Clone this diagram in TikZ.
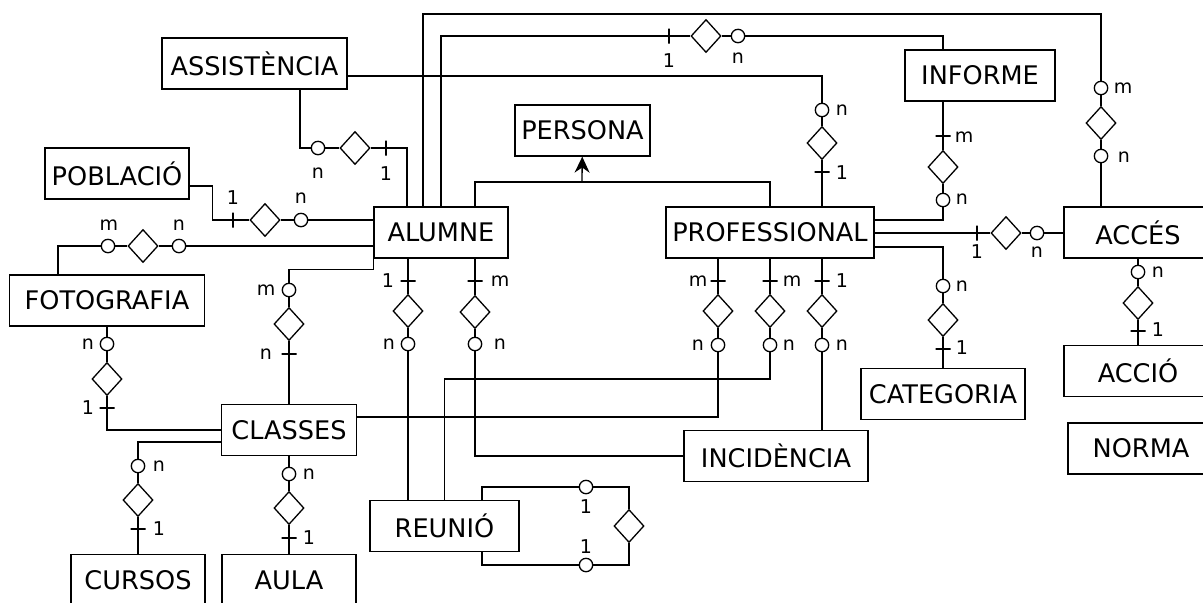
\documentclass[tikz,border=0pt]{standalone}
\usepackage{fontspec}
\setmainfont{DejaVu Sans}
\usetikzlibrary{shapes.geometric,arrows.meta}

\begin{document}
\begin{tikzpicture}[
  x=0.5pt,y=-0.5pt,line width=.65pt,
  ent/.style={draw,fill=white,inner sep=0pt,minimum height=25.5pt,
    minimum width=#1*0.5pt,font=\fontsize{12.8}{15}\selectfont},
  rel/.style={diamond,draw,fill=white,inner sep=0pt,
    minimum width=15pt,minimum height=16.5pt},
  opt/.style={circle,draw,fill=white,inner sep=0pt,minimum size=6.7pt},
  barh/.style={draw,inner sep=0pt,minimum width=7.5pt,minimum height=0pt},
  barv/.style={draw,inner sep=0pt,minimum width=0pt,minimum height=7.5pt},
  card/.style={inner sep=0pt,font=\fontsize{9.5}{11}\selectfont}]
  \useasboundingbox (0,0) rectangle (1203,602);
  \clip (0,0) rectangle (1203,602);

  % entities
  \node[ent=185] (assist) at (254.5,63.5) {ASSISTÈNCIA};
  \node[ent=144] (pobla) at (117,173.5) {POBLACIÓ};
  \node[ent=195] (foto) at (107,300.5) {FOTOGRAFIA};
  \node[ent=134] (alumne) at (441,232.5) {ALUMNE};
  \node[ent=135] (persona) at (582.5,130.5) {PERSONA};
  \node[ent=208] (prof) at (770,232.5) {PROFESSIONAL};
  \node[ent=150] (informe) at (980,75.5) {INFORME};
  \node[ent=148] (acces) at (1138,232.5) {ACCÉS};
  \node[ent=148] (accio) at (1138,371) {ACCIÓ};
  \node[ent=146] (norma) at (1141,448.5) {NORMA};
  \node[ent=164] (categ) at (943,394) {CATEGORIA};
  \node[ent=184] (incid) at (776,456) {INCIDÈNCIA};
  \node[ent=149] (reunio) at (444.5,526) {REUNIÓ};
  \node[ent=135] (classes) at (289,430) {CLASSES};
  \node[ent=134] (cursos) at (138,580) {CURSOS};
  \node[ent=134] (aula) at (289,580) {AULA};

  % relationship diamonds, optional circles and single bars
  \foreach \nm/\x/\y in {d1/355/148,d2/265/220,d3/143/246,d4/289/324,
    d5/408/311,d6/475/312,d7/718/311,d8/770/311,d9/822/311,d10/943/320,
    d11/1006/233,d12/943/167,d14/822/143,d15/706/36,d16/1101/123,
    d17/1138/303,d18/107/379,d19/138/500,d20/289/508,d21/629/526}
    \node[rel] (\nm) at (\x,\y) {};
  \foreach \nm/\x/\y in {o1/318/148,o2/301/220,o3a/108/246,o3b/179/246,
    o4/289/290,o5/408/344,o6/475/344,o7/718/345,o8/770/345,o9/822/345,
    o10/943/286,o11/1037/233,o12/943/200,o14/822/110,o15/738/36,
    o16a/1101/88,o16b/1101/156,o17/1138/272,o18/107/344,o19/138/466,
    o20/289/474,o21a/586/487,o21b/586/565}
    \node[opt] (\nm) at (\x,\y) {};
  \foreach \nm/\x/\y in {t1/386/148,t2/233/220,t11/977/233,t15/669/36}
    \node[barv] (\nm) at (\x,\y) {};
  \foreach \nm/\x/\y in {t4/289/354,t5/408/281,t6/475/281,t7/718/281,
    t8/770/281,t9/822/281,t10/943/349,t12/943/136,t14/822/172,
    t17/1138/331,t18/107/408,t19/138/529,t20/289/538}
    \node[barh] (\nm) at (\x,\y) {};

  % cardinalities
  \foreach \x/\y/\t [count=\i] in {318/173/n,386/174/1,233/198/1,301/198/n,
    109/225/m,179/225/n,266/290/m,266/354/n,388/281/1,389/344/n,
    500/281/m,500/344/n,698/281/m,698/345/n,792/281/m,789/345/n,
    842/281/1,842/345/n,962/286/n,962/348/1,977/252/1,1037/252/n,
    962/199/n,964/137/m,842/110/n,842/173/1,669/61/1,738/58/n,
    1123/88/m,1124/157/n,1158/272/n,1158/330/1,88/344/n,88/408/1,
    159/466/n,159/529/1,309/474/n,309/538/1,586/507/1,586/547/1}
    \node[card] (lab\i) at (\x,\y) {\t};

  % connectors of ALUMNE
  \draw (assist.south -| 300,0) |- (o1) -- (d1) -- (t1.center)
    -| (alumne.north -| 407,0);
  \draw (pobla.east |- 0,186) -- ++(23,0) |- (t2.center) -- (d2) -- (o2)
    -- (o2 -| alumne.west);
  \draw (foto.north -| 58,0) |- (o3a) -- (d3) -- (o3b) -- (o3b -| alumne.west);
  \draw (alumne.south west) -- ++(0,11) -| (o4) -- (d4) -- (t4.center)
    -- (t4 |- classes.north);
  \draw (alumne.south -| 408,0) -- (t5.center) -- (d5) -- (o5)
    -- (o5 |- reunio.north);
  \draw (alumne.south -| 475,0) -- (t6.center) -- (d6) -- (o6) |- (incid);
  \draw (alumne.north) |- (t15.center) -- (d15) -- (o15)
    -| (informe.north -| 943,0);
  \draw (alumne.north -| 423,0) |- (o16a |- 0,14) -- (o16a) -- (d16)
    -- (o16b) -- (o16b |- acces.north);

  % connectors of PROFESSIONAL
  \draw (prof.south -| 718,0) -- (t7.center) -- (d7) -- (o7)
    |- (classes.east |- 0,417);
  \draw (prof.south) -- (t8.center) -- (d8) -- (o8) -- (o8 |- 0,379)
    -| (reunio.north);
  \draw (prof.south -| 822,0) -- (t9.center) -- (d9) -- (o9)
    -- (o9 |- incid.north);
  \draw (prof.east |- 0,247) -| (o10) -- (d10) -- (t10.center) -- (categ.north);
  \draw (prof.east |- 0,233) -- (t11.center) -- (d11) -- (o11)
    -- (o11 -| acces.west);
  \draw (prof.east |- 0,220) -| (o12) -- (d12) -- (t12.center)
    -- (t12 |- informe.south);
  \draw (assist.east |- 0,76) -| (o14) -- (d14) -- (t14.center)
    -- (t14 |- prof.north);

  % generalisation into PERSONA
  \draw (prof.north) -- (prof.north |- 0,182) -| (alumne.north -| 475,0);
  \coordinate (gen) at (582,182);
  \draw[-{Stealth[length=8pt,width=7.5pt]}] (gen) -- (persona);

  % the rest
  \draw (acces.south) -- (o17) -- (d17) -- (t17.center) -- (accio.north);
  \draw (foto.south) -- (o18) -- (d18) -- (t18.center) |- (classes.west);
  \draw (classes.west |- 0,442) -| (o19) -- (d19) -- (t19.center)
    -- (cursos.north);
  \draw (classes.south) -- (o20) -- (d20) -- (t20.center) -- (aula.north);
  \draw (reunio.north -| 482,0) |- (o21a) -| (d21) |- (o21b)
    -| (reunio.south -| 482,0);
\end{tikzpicture}
\end{document}
